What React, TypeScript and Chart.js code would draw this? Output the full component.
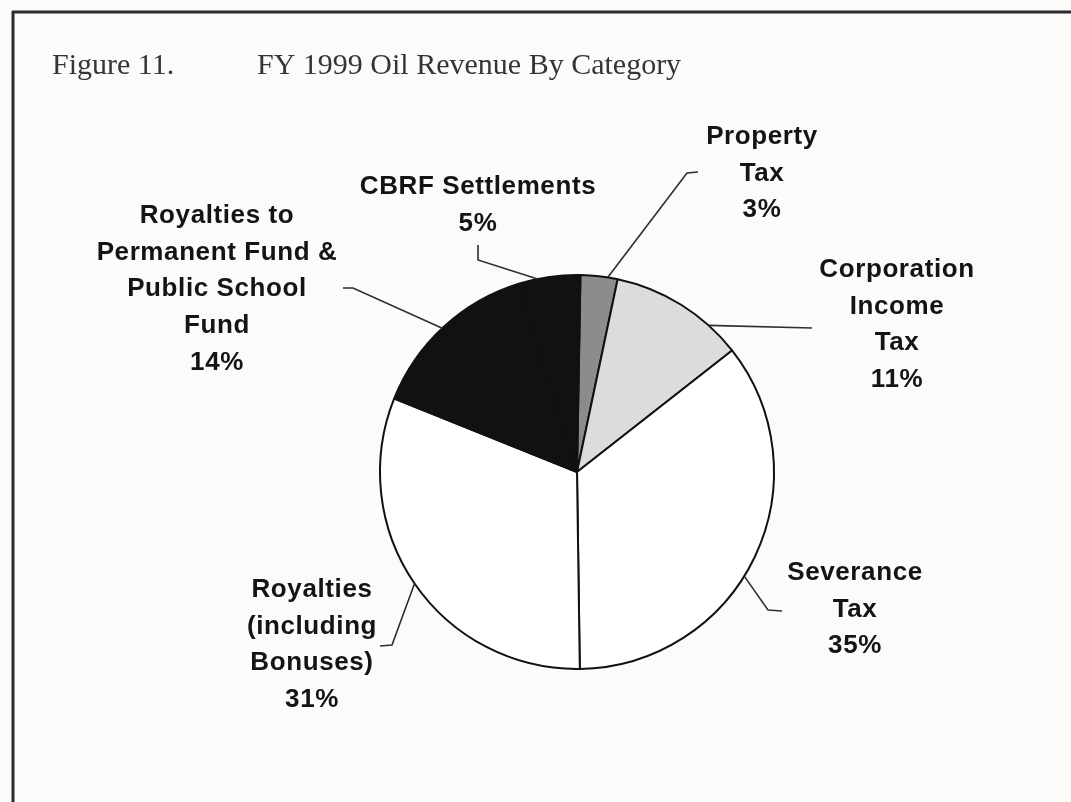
import React, { useEffect, useRef } from "react";
import { Chart, registerables } from "chart.js";

Chart.register(...registerables);

// ---- data ----
const categories = [
  "Property Tax",
  "Corporation Income Tax",
  "Severance Tax",
  "Royalties (including Bonuses)",
  "Royalties to Permanent Fund & Public School Fund",
  "CBRF Settlements",
];
const shares = [3, 11, 35, 31, 14, 5];
const sliceColors = ["#8c8c8c", "#dcdcdc", "#ffffff", "#ffffff", "#111111", "#111111"];
const labelLines = [
  ["Property", "Tax"],
  ["Corporation", "Income", "Tax"],
  ["Severance", "Tax"],
  ["Royalties", "(including", "Bonuses)"],
  ["Royalties to", "Permanent Fund &", "Public School", "Fund"],
  ["CBRF Settlements"],
];
const titleLeft = "Figure 11.";
const titleRight = "FY 1999 Oil Revenue By Category";

// ---- layout (offsets from pie centre, px) ----
const labelOffsets = [
  [185, -335],
  [320, -202],
  [278, 101],
  [-265, 118],
  [-360, -256],
  [-99, -285],
];
const anchorFractions = [0.73, 0.75, 0.55, 0.5, 0.49, 0.31];
const leaderPaths = [
  [[110, -299], [121, -300]],
  [[235, -144]],
  [[191, 138], [205, 139]],
  [[-185, 173], [-197, 174]],
  [[-224, -184], [-234, -184]],
  [[-99, -212], [-99, -227]],
];
const LINE_STEP = 36.6;

const W = 1071;
const H = 802;

const decorPlugin = {
  id: "decor",
  beforeDraw(chart: any) {
    const ctx = chart.ctx;
    ctx.save();
    ctx.fillStyle = "#fbfbf9";
    ctx.fillRect(0, 0, W, H);
    ctx.strokeStyle = "#2a2a2a";
    ctx.lineWidth = 3;
    ctx.beginPath();
    ctx.moveTo(12, 12);
    ctx.lineTo(W, 12);
    ctx.moveTo(13, 11);
    ctx.lineTo(13, H);
    ctx.stroke();
    ctx.fillStyle = "#353535";
    ctx.font = '30px "Liberation Serif", "Times New Roman", serif';
    ctx.textBaseline = "alphabetic";
    ctx.textAlign = "left";
    ctx.fillText(titleLeft, 52, 74);
    ctx.fillText(titleRight, 257, 74);
    ctx.restore();
  },
  afterDatasetsDraw(chart: any) {
    const ctx = chart.ctx;
    const meta = chart.getDatasetMeta(0);
    ctx.save();
    meta.data.forEach((arc: any, i: number) => {
      const { x, y, startAngle, endAngle, outerRadius } = arc.getProps(
        ["x", "y", "startAngle", "endAngle", "outerRadius"],
        true
      );
      const a = startAngle + anchorFractions[i] * (endAngle - startAngle);
      const ax = x + outerRadius * Math.cos(a);
      const ay = y + outerRadius * Math.sin(a);
      ctx.strokeStyle = "#2e2e2e";
      ctx.lineWidth = 1.6;
      ctx.beginPath();
      ctx.moveTo(ax, ay);
      leaderPaths[i].forEach(([dx, dy]) => ctx.lineTo(x + dx, y + dy));
      ctx.stroke();

      const lines = [...labelLines[i], `${shares[i]}%`];
      ctx.fillStyle = "#141414";
      ctx.font = 'bold 26px "Liberation Sans", Arial, sans-serif';
      (ctx as any).letterSpacing = "0.6px";
      ctx.textAlign = "center";
      ctx.textBaseline = "middle";
      const [ox, oy] = labelOffsets[i];
      lines.forEach((t, k) => {
        ctx.fillText(t, x + ox, y + oy + k * LINE_STEP);
      });
      (ctx as any).letterSpacing = "0px";
    });
    ctx.restore();
  },
};

export default function App() {
  const ref = useRef<HTMLCanvasElement | null>(null);
  useEffect(() => {
    document.body.style.margin = "0";
    document.body.style.overflow = "hidden";
    const canvas = ref.current;
    if (!canvas) return;
    const chart = new Chart(canvas, {
      type: "pie",
      data: {
        labels: categories,
        datasets: [
          {
            data: shares,
            backgroundColor: sliceColors,
            borderColor: "#111111",
            borderWidth: 2,
          },
        ],
      },
      options: {
        responsive: false,
        animation: false,
        events: [],
        rotation: 1,
        layout: {
          padding: { left: 379, right: W - 775, top: 274, bottom: H - 670 },
        },
        plugins: {
          legend: { display: false },
          tooltip: { enabled: false },
          title: { display: false },
        },
      },
      plugins: [decorPlugin],
    });
    return () => chart.destroy();
  }, []);
  return (
    <div style={{ width: W, height: H }}>
      <canvas ref={ref} width={W} height={H} style={{ display: "block" }} />
    </div>
  );
}
